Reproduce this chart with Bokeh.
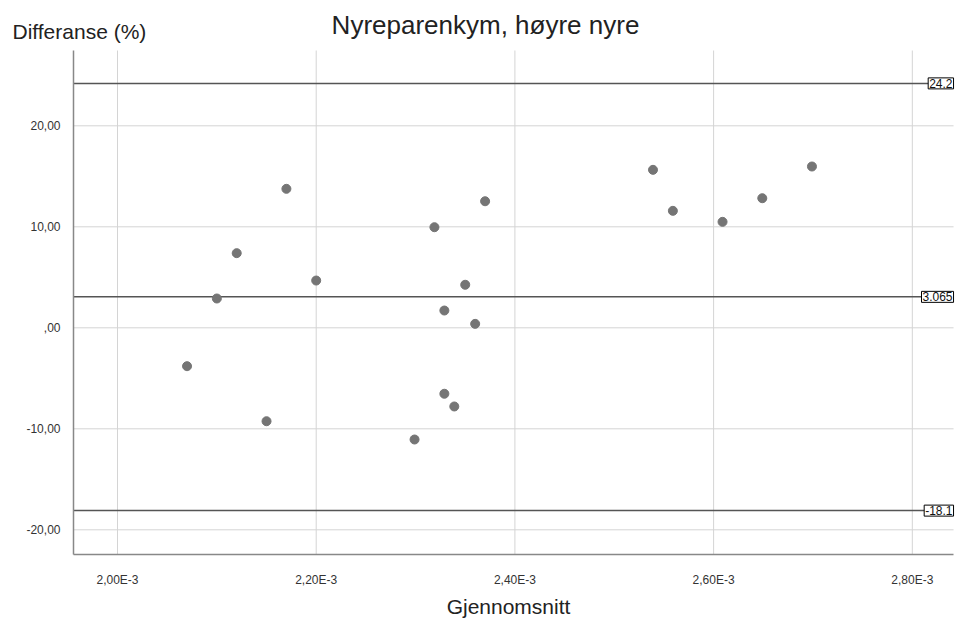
from bokeh.plotting import figure
from bokeh.models import Range1d, FixedTicker, CustomJSTickFormatter, Label, LinearAxis
from bokeh.embed import file_html
from bokeh.resources import INLINE

# Data (mean in units of 1e-3, difference in %)
gjennomsnitt_e3 = [2.070, 2.100, 2.120, 2.150, 2.170, 2.200, 2.299, 2.319, 2.329, 2.329,
                   2.339, 2.350, 2.360, 2.370, 2.539, 2.559, 2.609, 2.649, 2.699]
differanse = [-3.80, 2.90, 7.39, -9.25, 13.76, 4.68, -11.06, 9.96, 1.71, -6.53,
              -7.79, 4.26, 0.39, 12.53, 15.64, 11.58, 10.49, 12.83, 15.97]
ref_values = [24.2, 3.065, -18.1]
ref_labels = ["24.2", "3.065", "-18.1"]
x_ticks = [0.0020, 0.0022, 0.0024, 0.0026, 0.0028]
y_ticks = [-20, -10, 0, 10, 20]

title_text = "Nyreparenkym, høyre nyre"
y_label = "Differanse (%)"
x_label = "Gjennomsnitt"

FONT = "Liberation Sans"

# visible plotting area (data units)
X0, X1 = 0.0019557, 0.0028415
Y0, Y1 = -22.446, 27.455

gx = [v / 1000.0 for v in gjennomsnitt_e3]

p = figure(width=957, height=619,
           x_range=Range1d(0.00188224, 0.00284549),
           y_range=Range1d(-28.881, 32.406),
           x_axis_type=None, y_axis_type=None,
           output_backend="svg", toolbar_location=None,
           min_border=0)
p.outline_line_color = None
p.background_fill_color = "white"
p.border_fill_color = "white"

# grid lines, bounded to the visible plotting area
p.segment(x0=x_ticks, y0=[Y0] * len(x_ticks), x1=x_ticks, y1=[Y1] * len(x_ticks),
          line_color="#d4d4d4", line_width=1)
p.segment(x0=[X0] * len(y_ticks), y0=y_ticks, x1=[X1] * len(y_ticks), y1=y_ticks,
          line_color="#d4d4d4", line_width=1)

xaxis = LinearAxis(fixed_location=Y0, bounds=(X0, X1), ticker=FixedTicker(ticks=x_ticks))
yaxis = LinearAxis(fixed_location=X0, bounds=(Y0, Y1), ticker=FixedTicker(ticks=y_ticks))
xaxis.formatter = CustomJSTickFormatter(code="""
    var v = tick * 1000;
    return v.toFixed(2).replace('.', ',') + 'E-3';
""")
yaxis.formatter = CustomJSTickFormatter(code="""
    var s = tick.toFixed(2).replace('.', ',');
    if (s.startsWith('0,')) { s = s.slice(1); }
    return s;
""")
for ax in (xaxis, yaxis):
    ax.major_tick_line_color = None
    ax.minor_tick_line_color = None
    ax.axis_line_color = "#888888"
    ax.axis_line_width = 1.5
    ax.major_label_text_font = FONT
    ax.major_label_text_font_size = "12px"
    ax.major_label_text_color = "#333333"
xaxis.major_label_standoff = 12
yaxis.major_label_standoff = 7
p.add_layout(xaxis, "below")
p.add_layout(yaxis, "left")

# reference lines (mean difference and limits of agreement)
p.segment(x0=[X0] * len(ref_values), y0=ref_values, x1=[X1] * len(ref_values), y1=ref_values,
          line_color="#555555", line_width=1.5)
for v, t in zip(ref_values, ref_labels):
    p.add_layout(Label(x=X1, y=v, text=t, text_align="right", text_baseline="middle",
                       x_offset=0, text_font=FONT, text_font_size="12px", text_color="#111111",
                       border_line_color="black", border_line_width=1,
                       background_fill_color="white", padding=1))

p.scatter(gx, differanse, size=9, color="#757575", line_color="#757575")

p.add_layout(Label(x=485, y=24, x_units="canvas", y_units="canvas", text=title_text,
                   text_align="center", text_baseline="middle", text_font=FONT,
                   text_font_size="26px", text_color="#222222"))
p.add_layout(Label(x=12, y=31, x_units="canvas", y_units="canvas", text=y_label,
                   text_align="left", text_baseline="middle", text_font=FONT,
                   text_font_size="21px", text_color="#222222"))
p.add_layout(Label(x=508, y=606, x_units="canvas", y_units="canvas", text=x_label,
                   text_align="center", text_baseline="middle", text_font=FONT,
                   text_font_size="21px", text_color="#222222"))

open("out.html", "w").write(file_html(p, INLINE))
